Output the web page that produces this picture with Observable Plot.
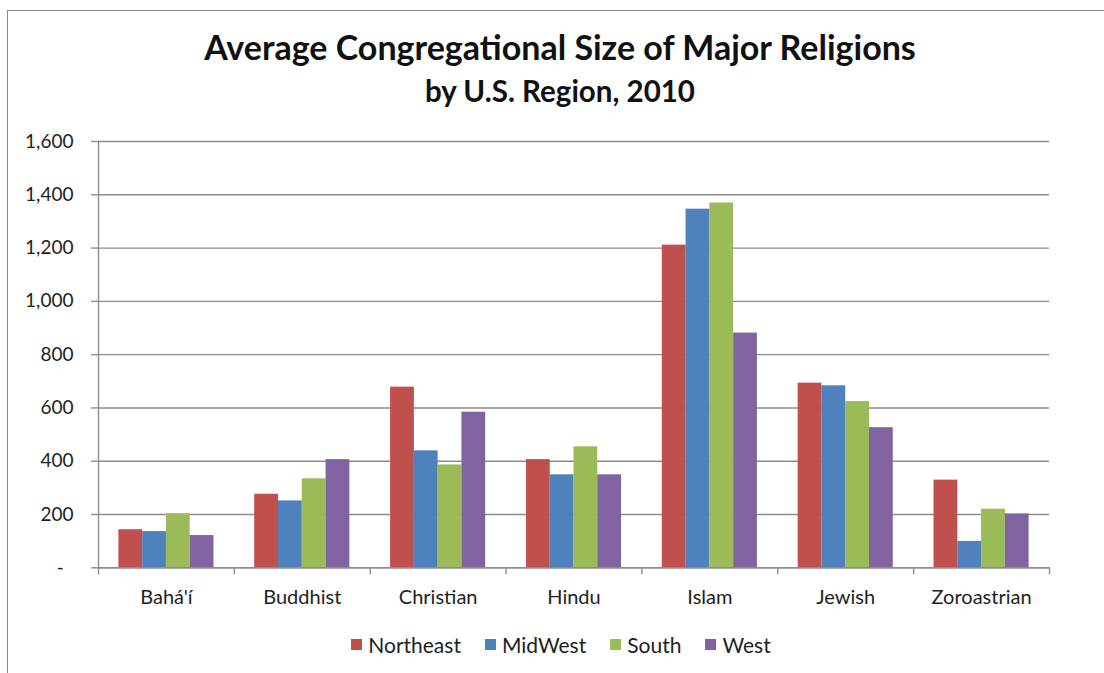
<!DOCTYPE html>
<html>
<head>
<meta charset="utf-8">
<script src="https://cdn.jsdelivr.net/npm/d3@7"></script>
<script src="https://cdn.jsdelivr.net/npm/@observablehq/plot@0.6"></script>
<style>
  html, body { margin: 0; padding: 0; background: #fff; }
  #wrap { position: relative; width: 1104px; height: 673px; overflow: hidden; background: #fff; font-family: Lato, "Open Sans", sans-serif; color: #1e1e1e; }
  #border { position: absolute; left: 7px; top: 10px; width: 1200px; height: 800px; border-left: 1.5px solid #8a8a8a; border-top: 1.5px solid #8a8a8a; }
  #title { position: absolute; left: 0; width: 1120px; top: 30px; text-align: center; font-weight: bold; font-size: 34px; line-height: 1; white-space: nowrap; color: #111; }
  #subtitle { position: absolute; left: 0; width: 1120px; top: 76px; text-align: center; font-weight: bold; font-size: 29.5px; line-height: 1; white-space: nowrap; color: #111; }
  #chart { position: absolute; left: 0; top: 120px; }
  #legend { position: absolute; left: 0; width: 1122px; top: 634px; display: flex; justify-content: center; font-size: 21px; line-height: 1; }
  .item { display: flex; align-items: center; margin: 0 12px; }
  .sw { width: 11px; height: 11px; margin-right: 6px; }
</style>
</head>
<body>
<div id="wrap">
  <div id="border"></div>
  <div id="title">Average Congregational Size of Major Religions</div>
  <div id="subtitle">by U.S. Region, 2010</div>
  <div id="chart"></div>
  <div id="legend"></div>
</div>
<script>
const religions = ["Bahá'í", "Buddhist", "Christian", "Hindu", "Islam", "Jewish", "Zoroastrian"];
const regions = ["Northeast", "MidWest", "South", "West"];
const northeast = [143, 276, 678, 406, 1211, 693, 329];
const midwest   = [136, 251, 439, 349, 1346, 683, 99];
const south     = [203, 334, 386, 454, 1369, 624, 220];
const west      = [121, 406, 584, 349, 881, 526, 202];
const yTicks = [0, 200, 400, 600, 800, 1000, 1200, 1400, 1600];
const colors = ["#C0504D", "#4F81BD", "#9BBB59", "#8064A2"];

const seriesValues = [northeast, midwest, south, west];
const rows = [];
regions.forEach((r, i) => religions.forEach((g, j) => rows.push({region: r, religion: g, value: seriesValues[i][j]})));

const W = 1104, H = 500, mL = 98, mR = 55, mT = 21, mB = 52.7;
const padInner = 0.3, padOuter = 0.15;
const plotW = W - mL - mR;
const step = plotW / (religions.length - padInner + 2 * padOuter);
const bw = step * (1 - padInner);
const barW = bw / regions.length;
const gridColor = "#8d8d8d";

const barMarks = regions.map((r, i) =>
  Plot.barY(rows.filter(d => d.region === r), {
    x: "religion", y: "value", fill: colors[i],
    insetLeft: i * barW, insetRight: (regions.length - 1 - i) * barW
  })
);

const chart = Plot.plot({
  width: W, height: H,
  marginLeft: mL, marginRight: mR, marginTop: mT, marginBottom: mB,
  style: {fontFamily: "Lato, 'Open Sans', sans-serif", fontSize: "19px", background: "transparent", color: "#1e1e1e"},
  x: {type: "band", domain: religions, paddingInner: padInner, paddingOuter: padOuter, round: false, label: null},
  y: {domain: [0, 1600], label: null},
  marks: [
    Plot.gridY(yTicks, {stroke: gridColor, strokeOpacity: 1, strokeWidth: 1.4}),
    Plot.frame({anchor: "left", stroke: gridColor, strokeWidth: 1.4}),
    ...barMarks,
    Plot.ruleY([0], {stroke: gridColor, strokeWidth: 1.4}),
    Plot.ruleX(religions, {x: d => d, y1: 0, y2: 0, insetBottom: -7, dx: -step / 2, stroke: gridColor, strokeWidth: 1.4}),
    Plot.ruleX(religions.slice(-1), {x: d => d, y1: 0, y2: 0, insetBottom: -7, dx: step / 2, stroke: gridColor, strokeWidth: 1.4}),
    Plot.axisY({ticks: yTicks, tickSize: 7, tickPadding: 18, stroke: gridColor, strokeWidth: 1.4, fill: "#1e1e1e", fontSize: 19,
      tickFormat: d => d === 0 ? "-\u00a0\u00a0" : d3.format(",")(d), label: null}),
    Plot.axisX({tickSize: 0, tickPadding: 22, fontSize: 20, fill: "#1e1e1e", label: null})
  ]
});
document.getElementById("chart").appendChild(chart);

const legend = document.getElementById("legend");
regions.forEach((r, i) => {
  const it = document.createElement("div");
  it.className = "item";
  const sw = document.createElement("div");
  sw.className = "sw";
  sw.style.background = colors[i];
  const tx = document.createElement("span");
  tx.textContent = r;
  it.appendChild(sw); it.appendChild(tx);
  legend.appendChild(it);
});
</script>
</body>
</html>
